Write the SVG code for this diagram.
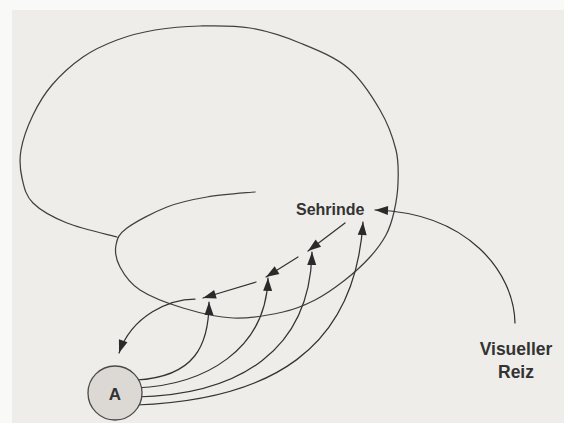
<svg xmlns="http://www.w3.org/2000/svg" width="564" height="423" viewBox="0 0 564 423">
  <defs>
    <marker id="ah" markerUnits="userSpaceOnUse" markerWidth="14" markerHeight="10" refX="13" refY="4.5" orient="auto" overflow="visible">
      <path d="M0,0 L13,4.5 L0,9 Z" fill="#2a2a2a"/>
    </marker>
    <style>
      .ln { fill: none; stroke: #333; stroke-width: 1.25; stroke-linecap: round; }
      .arr { marker-end: url(#ah); }
      .outline { fill: none; stroke: #404040; stroke-width: 1.25; stroke-linecap: round; stroke-linejoin: round; }
      .lbl { font-family: "Liberation Sans", Arial, sans-serif; font-weight: bold; fill: #333; }
    </style>
  </defs>

  <rect x="0" y="0" width="564" height="423" fill="#f9f9f8"/>
  <rect x="12" y="10" width="552" height="413" fill="#efedea"/>

  <g id="brain">
    <path class="outline" d="M117,237 C108.7,234.7 81,228.7 67,223 C53,217.3 40.5,210.5 33,203 C25.5,195.5 24,186.8 22,178 C20,169.2 19.2,160.5 21,150 C22.8,139.5 27.8,125.8 33,115 C38.2,104.2 43.7,94.7 52,85 C60.3,75.3 72.2,64.5 83,57 C93.8,49.5 105,44.5 117,40 C129,35.5 141.2,32.3 155,30 C168.8,27.7 184.2,26.3 200,26 C215.8,25.7 233.3,25.2 250,28 C266.7,30.8 283.7,36.3 300,43 C316.3,49.7 334.7,56.8 348,68 C361.3,79.2 372,96.3 380,110 C388,123.7 393,137.8 396,150 C399,162.2 398.3,172.7 398,183 C397.7,193.3 396,203.3 394,212 C392,220.7 390,227.5 386,235 C382,242.5 376.8,249.5 370,257 C363.2,264.5 354.2,272.8 345,280 C335.8,287.2 325.3,294.7 315,300 C304.7,305.3 296.7,309 283,312 C269.3,315 249.7,318.7 233,318 C216.3,317.3 198.5,312.7 183,308 C167.5,303.3 150.5,296.8 140,290 C129.5,283.2 124,274.5 120,267 C116,259.5 114.8,251.5 116,245 C117.2,238.5 118.5,234.3 127,228 C135.5,221.7 153.7,212.2 167,207 C180.3,201.8 192.3,199.5 207,197 C221.7,194.5 247,192.8 255,192"/>
  </g>

  <g id="connectors">
    <path class="ln arr" d="M345,223 L308,251"/>
    <path class="ln arr" d="M298,257 L266,277"/>
    <path class="ln arr" d="M256,282 L203,298"/>
    <path class="ln arr" d="M195,299 C170,299 132,315 119,353"/>
    <path class="ln arr" d="M136,380 C195,377 209,345 209,302"/>
    <path class="ln arr" d="M136,388 C205,385 266,350 268,278"/>
    <path class="ln arr" d="M136,397 C240,395 310,350 312,252"/>
    <path class="ln arr" d="M136,405 C270,400 355,350 363,222"/>
    <path class="ln arr" d="M515,323 C514,272 468,213 375,210"/>
  </g>

  <g id="node-A">
    <circle cx="115" cy="393" r="27" fill="#dcd9d4" stroke="#4a4a4a" stroke-width="1.3"/>
    <text class="lbl" x="115" y="400" font-size="17" text-anchor="middle">A</text>
  </g>

  <g id="node-sehrinde">
    <text class="lbl" x="296" y="215" font-size="16">Sehrinde</text>
  </g>

  <g id="node-reiz">
    <text class="lbl" x="516" y="355" font-size="17.5" text-anchor="middle">Visueller</text>
    <text class="lbl" x="516" y="378" font-size="17.5" text-anchor="middle">Reiz</text>
  </g>
</svg>
